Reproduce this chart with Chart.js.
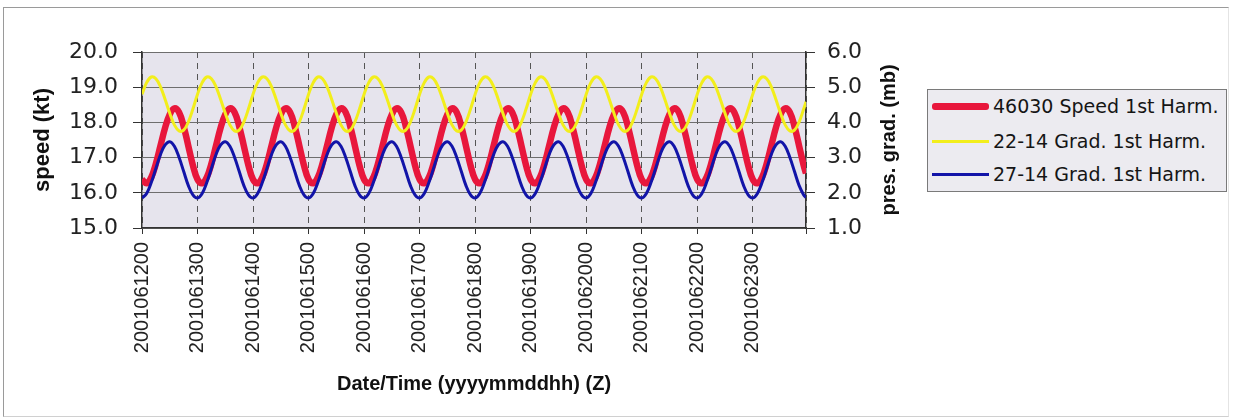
<!DOCTYPE html>
<html>
<head>
<meta charset="utf-8">
<script src="https://cdn.jsdelivr.net/npm/chart.js@4"></script>
<style>
html,body{margin:0;padding:0;background:#fff;}
#wrap{position:relative;width:1233px;height:420px;overflow:hidden;background:#fff;}
#frame{position:absolute;left:3px;top:7px;width:1226px;height:410px;box-sizing:border-box;border:1px solid #9a9a9a;border-right-color:#e4e4e4;border-bottom-color:#d0d0d0;}
#c{position:absolute;left:0;top:0;}
#legend{position:absolute;left:927px;top:89px;width:300px;height:103px;box-sizing:border-box;border:1px solid #7a7a7a;background:#ecebf0;font-family:"DejaVu Sans",sans-serif;font-size:19px;color:#151515;}
.item{position:absolute;left:4px;height:26px;display:flex;align-items:center;white-space:nowrap;}
.sw{display:inline-block;width:57px;margin-right:4px;}
</style>
</head>
<body>
<div id="wrap">
  <div id="frame"></div>
  <canvas id="c" width="1233" height="420"></canvas>
  <div id="legend">
    <div class="item" style="top:3px"><span class="sw" style="height:7px;background:#e8173c;border-radius:3px"></span>46030 Speed 1st Harm.</div>
    <div class="item" style="top:38px"><span class="sw" style="height:3px;background:#f2ee1c"></span>22-14 Grad. 1st Harm.</div>
    <div class="item" style="top:71px"><span class="sw" style="height:3px;background:#1214a8"></span>27-14 Grad. 1st Harm.</div>
  </div>
</div>
<script>
// Day tick labels (yyyymmddhh)
const tickLabels = ['2001061200','2001061300','2001061400','2001061500','2001061600','2001061700',
                    '2001061800','2001061900','2001062000','2001062100','2001062200','2001062300'];
const rightTitle = 'pres. grad. (mb)';

// Sample hours (every 2 h over 12 days, plus last hour 23 of the last day)
const hours = [];
for (let i = 0; i < 144; i++) hours.push(i * 2);
hours.push(287);

// 46030 Speed 1st Harm. (kt, left axis)
const speed46030 = [
 16.38,16.27,16.44,16.83,17.34,17.85,18.23,18.40,18.29,17.89,17.34,16.78,
 16.38,16.27,16.44,16.83,17.34,17.85,18.23,18.40,18.29,17.89,17.34,16.78,
 16.38,16.27,16.44,16.83,17.34,17.85,18.23,18.40,18.29,17.89,17.34,16.78,
 16.38,16.27,16.44,16.83,17.34,17.85,18.23,18.40,18.29,17.89,17.34,16.78,
 16.38,16.27,16.44,16.83,17.34,17.85,18.23,18.40,18.29,17.89,17.34,16.78,
 16.38,16.27,16.44,16.83,17.34,17.85,18.23,18.40,18.29,17.89,17.34,16.78,
 16.38,16.27,16.44,16.83,17.34,17.85,18.23,18.40,18.29,17.89,17.34,16.78,
 16.38,16.27,16.44,16.83,17.34,17.85,18.23,18.40,18.29,17.89,17.34,16.78,
 16.38,16.27,16.44,16.83,17.34,17.85,18.23,18.40,18.29,17.89,17.34,16.78,
 16.38,16.27,16.44,16.83,17.34,17.85,18.23,18.40,18.29,17.89,17.34,16.78,
 16.38,16.27,16.44,16.83,17.34,17.85,18.23,18.40,18.29,17.89,17.34,16.78,
 16.38,16.27,16.44,16.83,17.34,17.85,18.23,18.40,18.29,17.89,17.34,16.78,
 16.55];

// 22-14 Grad. 1st Harm. (mb, right axis)
const grad2214 = [
 4.80,5.13,5.29,5.24,5.01,4.65,4.26,3.93,3.76,3.78,4.01,4.38,
 4.80,5.13,5.29,5.24,5.01,4.65,4.26,3.93,3.76,3.78,4.01,4.38,
 4.80,5.13,5.29,5.24,5.01,4.65,4.26,3.93,3.76,3.78,4.01,4.38,
 4.80,5.13,5.29,5.24,5.01,4.65,4.26,3.93,3.76,3.78,4.01,4.38,
 4.80,5.13,5.29,5.24,5.01,4.65,4.26,3.93,3.76,3.78,4.01,4.38,
 4.80,5.13,5.29,5.24,5.01,4.65,4.26,3.93,3.76,3.78,4.01,4.38,
 4.80,5.13,5.29,5.24,5.01,4.65,4.26,3.93,3.76,3.78,4.01,4.38,
 4.80,5.13,5.29,5.24,5.01,4.65,4.26,3.93,3.76,3.78,4.01,4.38,
 4.80,5.13,5.29,5.24,5.01,4.65,4.26,3.93,3.76,3.78,4.01,4.38,
 4.80,5.13,5.29,5.24,5.01,4.65,4.26,3.93,3.76,3.78,4.01,4.38,
 4.80,5.13,5.29,5.24,5.01,4.65,4.26,3.93,3.76,3.78,4.01,4.38,
 4.80,5.13,5.29,5.24,5.01,4.65,4.26,3.93,3.76,3.78,4.01,4.38,
 4.59];

// 27-14 Grad. 1st Harm. (mb, right axis)
const grad2714 = [
 1.85,1.98,2.29,2.69,3.09,3.36,3.45,3.32,3.01,2.61,2.21,1.94,
 1.85,1.98,2.29,2.69,3.09,3.36,3.45,3.32,3.01,2.61,2.21,1.94,
 1.85,1.98,2.29,2.69,3.09,3.36,3.45,3.32,3.01,2.61,2.21,1.94,
 1.85,1.98,2.29,2.69,3.09,3.36,3.45,3.32,3.01,2.61,2.21,1.94,
 1.85,1.98,2.29,2.69,3.09,3.36,3.45,3.32,3.01,2.61,2.21,1.94,
 1.85,1.98,2.29,2.69,3.09,3.36,3.45,3.32,3.01,2.61,2.21,1.94,
 1.85,1.98,2.29,2.69,3.09,3.36,3.45,3.32,3.01,2.61,2.21,1.94,
 1.85,1.98,2.29,2.69,3.09,3.36,3.45,3.32,3.01,2.61,2.21,1.94,
 1.85,1.98,2.29,2.69,3.09,3.36,3.45,3.32,3.01,2.61,2.21,1.94,
 1.85,1.98,2.29,2.69,3.09,3.36,3.45,3.32,3.01,2.61,2.21,1.94,
 1.85,1.98,2.29,2.69,3.09,3.36,3.45,3.32,3.01,2.61,2.21,1.94,
 1.85,1.98,2.29,2.69,3.09,3.36,3.45,3.32,3.01,2.61,2.21,1.94,
 1.87];

const toPts = arr => arr.map((v, i) => ({x: hours[i], y: v}));

const plotBg = {
  id: 'plotBg',
  beforeDraw(chart) {
    const {ctx, chartArea: a} = chart;
    ctx.save();
    ctx.fillStyle = '#e6e4ed';
    ctx.fillRect(a.left, a.top, a.right - a.left, a.bottom - a.top);
    ctx.restore();
  }
};

// Right axis title reading bottom-to-top, placed beside the right scale
const rightAxisTitle = {
  id: 'rightAxisTitle',
  afterDraw(chart) {
    const {ctx, chartArea: a} = chart;
    const s = chart.scales.y1;
    ctx.save();
    ctx.translate(s.right - 16, (a.top + a.bottom) / 2);
    ctx.rotate(-Math.PI / 2);
    ctx.textAlign = 'center';
    ctx.textBaseline = 'middle';
    ctx.fillStyle = '#111';
    ctx.font = 'bold 20px "Liberation Sans"';
    ctx.fillText(rightTitle, 0, 0);
    ctx.restore();
  }
};

new Chart(document.getElementById('c'), {
  type: 'line',
  data: {
    datasets: [
      {label: '46030 Speed 1st Harm.', data: toPts(speed46030), yAxisID: 'y',
       borderColor: '#e8173c', borderWidth: 6.5, pointRadius: 0, tension: 0.4, order: 3},
      {label: '22-14 Grad. 1st Harm.', data: toPts(grad2214), yAxisID: 'y1',
       borderColor: '#f2ee1c', borderWidth: 3, pointRadius: 0, tension: 0.4, order: 2},
      {label: '27-14 Grad. 1st Harm.', data: toPts(grad2714), yAxisID: 'y1',
       borderColor: '#1214a8', borderWidth: 3, pointRadius: 0, tension: 0.4, order: 1}
    ]
  },
  options: {
    responsive: false,
    animation: false,
    devicePixelRatio: 1,
    layout: {padding: {left: 30, right: 328, top: 52, bottom: 20}},
    plugins: {legend: {display: false}, tooltip: {enabled: false}},
    scales: {
      x: {
        type: 'linear', position: 'bottom', min: 0, max: 287,
        afterFit: s => { s.height = 172; },
        ticks: {
          stepSize: 24, autoSkip: false, maxRotation: 90, minRotation: 90,
          padding: 8, color: '#222',
          font: {family: 'Liberation Sans', size: 20},
          callback: v => (v % 24 === 0 && tickLabels[v / 24]) ? tickLabels[v / 24] : ''
        },
        grid: {color: '#555', lineWidth: 1, tickLength: 6, tickColor: '#333', tickBorderDash: []},
        border: {display: true, color: '#333', width: 1.5, dash: [6, 5]},
        title: {display: true, text: 'Date/Time (yyyymmddhh) (Z)', color: '#111',
                font: {family: 'Liberation Sans', size: 20, weight: 'bold'}, padding: {top: 0, bottom: 4}}
      },
      y: {
        position: 'left', min: 15, max: 20,
        afterFit: s => { s.width = 112; },
        ticks: {stepSize: 1, padding: 15, color: '#222',
                font: {family: 'DejaVu Sans', size: 22},
                callback: v => v.toFixed(1)},
        grid: {color: '#6e6e6e', lineWidth: 1, tickLength: 9, tickColor: '#333'},
        border: {display: true, color: '#333', width: 1.5},
        title: {display: true, text: 'speed (kt)', color: '#111',
                font: {family: 'Liberation Sans', size: 22, weight: 'bold'}, padding: {top: 0, bottom: 0}}
      },
      y1: {
        position: 'right', min: 1, max: 6,
        afterFit: s => { s.width = 99; },
        ticks: {stepSize: 1, padding: 12, color: '#222',
                font: {family: 'DejaVu Sans', size: 22},
                callback: v => v.toFixed(1)},
        grid: {drawOnChartArea: false, tickLength: 9, tickColor: '#333'},
        border: {display: true, color: '#333', width: 1.5},
        title: {display: false}
      }
    }
  },
  plugins: [plotBg, rightAxisTitle]
});
</script>
</body>
</html>
